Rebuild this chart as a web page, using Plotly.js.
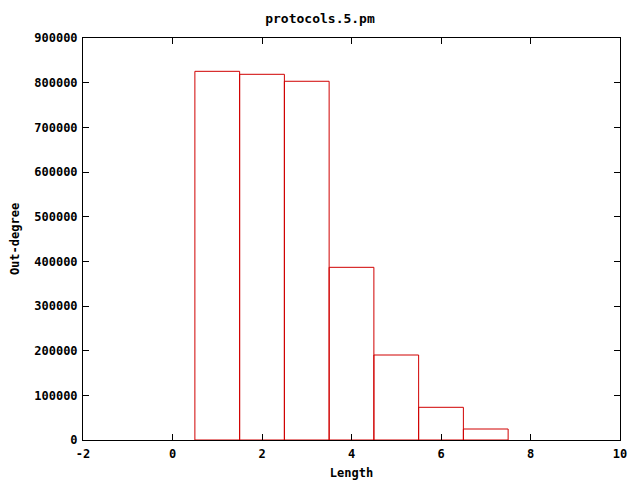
<!DOCTYPE html>
<html>
<head>
<meta charset="utf-8">
<script src="https://cdn.plot.ly/plotly-3.0.1.min.js"></script>
<style>html,body{margin:0;padding:0;background:#fff}</style>
</head>
<body>
<div id="chart" style="width:640px;height:480px"></div>
<script>
var lengths = [1, 2, 3, 4, 5, 6, 7];
var outDegree = [825400, 818700, 803100, 386600, 190300, 73200, 24600];
var xTicks = [-2, 0, 2, 4, 6, 8, 10];
var yTicks = [0, 100000, 200000, 300000, 400000, 500000, 600000, 700000, 800000, 900000];

var fnt = {family: "DejaVu Sans Mono, Liberation Mono, monospace", size: 12, color: "#000", weight: "bold"};
var titleFnt = {family: "DejaVu Sans Mono, Liberation Mono, monospace", size: 13, color: "#000", weight: "bold"};

var trace = {
  type: "bar",
  x: lengths,
  y: outDegree,
  width: 1,
  marker: {color: "rgba(255,255,255,0)", line: {color: "#d00000", width: 1}},
  hoverinfo: "skip"
};

var layout = {
  width: 640, height: 480,
  margin: {l: 83, r: 20, t: 38, b: 40},
  paper_bgcolor: "#fff", plot_bgcolor: "#fff",
  showlegend: false,
  font: fnt,
  title: {text: "protocols.5.pm", font: titleFnt, x: 0.5, xanchor: "center", y: 0.962, yanchor: "middle"},
  xaxis: {
    range: [-2, 10], tickvals: xTicks, ticktext: xTicks.map(String),
    ticks: "inside", ticklen: 6, tickwidth: 1, tickcolor: "#000",
    mirror: "ticks", showline: true, linecolor: "#000", linewidth: 1,
    showgrid: false, zeroline: false, tickfont: fnt, ticklabelstandoff: 3,
    title: {text: "Length", font: fnt, standoff: 10}
  },
  yaxis: {
    range: [0, 900000], tickvals: yTicks, ticktext: yTicks.map(String),
    ticks: "inside", ticklen: 6, tickwidth: 1, tickcolor: "#000",
    mirror: "ticks", showline: true, linecolor: "#000", linewidth: 1,
    showgrid: false, zeroline: false, tickfont: fnt, ticklabelstandoff: 2,
    title: {text: "Out-degree", font: fnt, standoff: 12}
  }
};

Plotly.newPlot("chart", [trace], layout, {displayModeBar: false, staticPlot: true});
</script>
</body>
</html>
